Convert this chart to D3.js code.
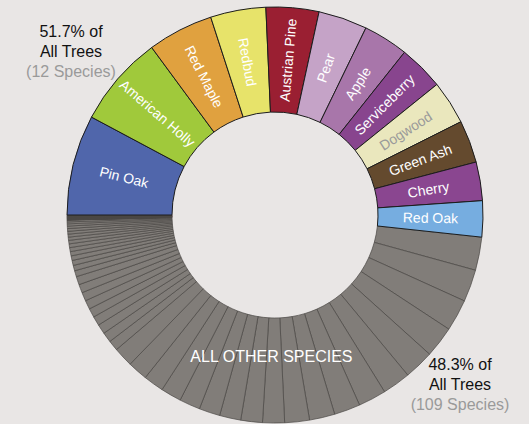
<!DOCTYPE html>
<html>
<head>
<meta charset="utf-8">
<script src="https://cdn.jsdelivr.net/npm/d3@7"></script>
<style>
	html, body { margin: 0; padding: 0; background: #e9e6e5; }
	svg { display: block; font-family: "Liberation Sans", Arial, Helvetica, sans-serif; }
</style>
</head>
<body>
<svg id="chart"></svg>
<script>
// top 12 species, share of all trees in %
const species = [
	'Pin Oak', 'American Holly', 'Red Maple', 'Redbud', 'Austrian Pine', 'Pear',
	'Apple', 'Serviceberry', 'Dogwood', 'Green Ash', 'Cherry', 'Red Oak',
];
const speciesShare = [7.8, 7.1, 5.1, 4.3, 4.1, 3.8, 3.5, 3.5, 3.4, 3.3, 3.0, 2.8];
const speciesColor = [
	'#5066ab', '#a0c93b', '#e0a13f', '#e7e36a', '#9a1f32', '#c5a3c7',
	'#a876aa', '#88458e', '#eae7bd', '#644a2e', '#8a4690', '#76ade0',
];
const speciesText = [
	'#fff', '#fff', '#fff', '#fff', '#fff', '#fff',
	'#fff', '#fff', '#9a9a9a', '#fff', '#fff', '#fff',
];

// the other 109 species, in %
const otherShare = [
	2.58, 2.50, 2.47, 2.42, 2.31, 2.19, 2.17, 2.03, 1.97, 1.92,
	1.70, 1.68, 1.65, 1.63, 1.62, 1.60, 1.58, 1.55, 1.53, 0.80,
	0.78, 0.75, 0.72, 0.70, 0.69, 0.67, 0.66, 0.64, 0.47, 0.42,
	0.39, 0.36, 0.33, 0.31, 0.29, 0.27, 0.25, 0.23, 0.22, 0.21,
	0.19, 0.17, 0.15, 0.14,
	0.012, 0.012, 0.012, 0.012, 0.012,
	0.008, 0.008, 0.008, 0.008, 0.008, 0.008, 0.008, 0.008, 0.008, 0.008,
	0.005, 0.005, 0.005, 0.005, 0.005, 0.005, 0.005, 0.005, 0.005, 0.005,
	0.005, 0.005, 0.005, 0.005, 0.005, 0.005, 0.005, 0.005, 0.005, 0.005,
	0.005, 0.005, 0.005, 0.005, 0.005, 0.005, 0.005, 0.005, 0.005, 0.005,
	0.005, 0.005, 0.005, 0.005, 0.005, 0.005, 0.005, 0.005, 0.005, 0.005,
	0.005, 0.005, 0.005, 0.005, 0.005, 0.005, 0.005, 0.005, 0.005, 0.005,
];

const topNote = ['51.7% of', 'All Trees', '(12 Species)'];
const bottomNote = ['48.3% of', 'All Trees', '(109 Species)'];
const otherLabel = 'ALL OTHER SPECIES';

const width = 529;
const height = 424;
const cx = 275;
const cy = 215;
const outer = 208;
const inner = 103;

const rows = [
	...species.map((name, i) => ({
		name,
		value: speciesShare[i],
		color: speciesColor[i],
		text: speciesText[i],
		named: true,
	})),
	...otherShare.map((value) => ({ name: null, value, color: '#817d79', named: false })),
];

const pie = d3.pie()
	.sort(null)
	.value((d) => d.value)
	.startAngle(-Math.PI / 2)
	.endAngle(Math.PI * 1.5);

const arcs = pie(rows);

const arc = d3.arc().innerRadius(inner).outerRadius(outer);
const labelArc = d3.arc().innerRadius((inner + outer) / 2).outerRadius((inner + outer) / 2);

const svg = d3.select('#chart')
	.attr('width', width)
	.attr('height', height);

const g = svg.append('g')
	.attr('transform', `translate(${ cx }, ${ cy })`);

// grey ones first, named ones on top so their dark edges stay visible
g.selectAll('path.other')
	.data(arcs.filter((d) => !d.data.named))
	.join('path')
		.attr('class', 'other')
		.attr('d', arc)
		.attr('fill', (d) => d.data.color)
		.attr('stroke', '#4a4845')
		.attr('stroke-width', 0.7);

g.selectAll('path.named')
	.data(arcs.filter((d) => d.data.named))
	.join('path')
		.attr('class', 'named')
		.attr('d', arc)
		.attr('fill', (d) => d.data.color)
		.attr('stroke', '#1c1c1c')
		.attr('stroke-width', 1);

const degrees = (d) => {
	let a = (d.startAngle + d.endAngle) / 2 * 180 / Math.PI;
	return (a + 360) % 360;
};

g.selectAll('text.label')
	.data(arcs.filter((d) => d.data.named))
	.join('text')
		.attr('class', 'label')
		.attr('transform', (d) => {
			const [x, y] = labelArc.centroid(d);
			const a = degrees(d);
			const rot = a < 180 ? a - 90 : a - 270;
			return `translate(${ x }, ${ y }) rotate(${ rot })`;
		})
		.attr('text-anchor', 'middle')
		.attr('dy', '0.35em')
		.attr('fill', (d) => d.data.text)
		.style('font-size', '14px')
		.text((d) => d.data.name);

// label for the whole grey block
const others = arcs.filter((d) => !d.data.named);
const otherArc = {
	startAngle: others[0].startAngle,
	endAngle: others[others.length - 1].endAngle,
};
const [ox, oy] = d3.arc().innerRadius(124).outerRadius(160).centroid(otherArc);
g.append('text')
	.attr('x', ox + 4)
	.attr('y', oy)
	.attr('dy', '0.35em')
	.attr('text-anchor', 'middle')
	.attr('fill', '#fff')
	.style('font-size', '16px')
	.text(otherLabel);

const note = (lines, x, y) => {
	const t = svg.append('text')
		.attr('text-anchor', 'middle')
		.style('font-size', '16px');
	lines.forEach((line, i) => {
		t.append('tspan')
			.attr('x', x)
			.attr('y', y + i * 20)
			.attr('fill', i === 2 ? '#9a9a9a' : '#111')
			.text(line);
	});
};

note(topNote, 71, 37);
note(bottomNote, 460, 370);
</script>
</body>
</html>
